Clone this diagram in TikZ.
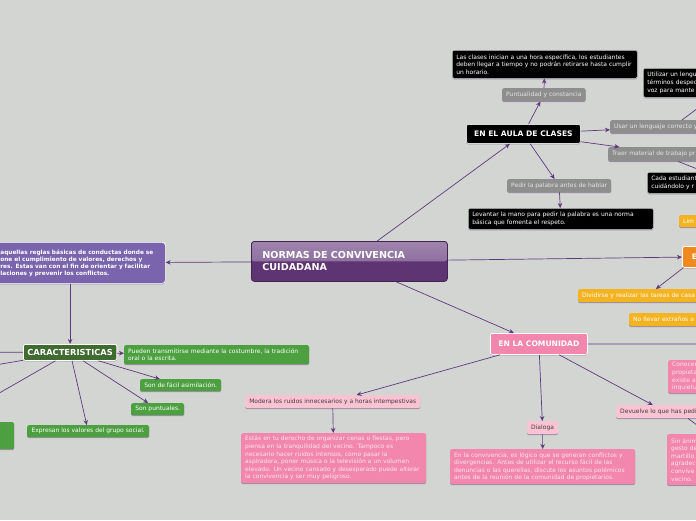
\documentclass[tikz,border=0pt]{standalone}
\usepackage{fontspec}
\setmainfont{DejaVu Sans}
\usetikzlibrary{arrows.meta,shadows}

\definecolor{bgc}{HTML}{D3D5D2}
\definecolor{linec}{HTML}{5E3A7C}
\definecolor{defc}{HTML}{7A64AE}
\definecolor{grayc}{HTML}{8E8E8E}
\definecolor{graytext}{HTML}{E4E4E4}
\definecolor{darkgreen}{HTML}{3F6B31}
\definecolor{greenc}{HTML}{4CA03F}
\definecolor{pinkc}{HTML}{F286AD}
\definecolor{pinktext}{HTML}{FDE6EE}
\definecolor{lightpink}{HTML}{F8C4D2}
\definecolor{lightpinktext}{HTML}{4A3A42}
\definecolor{yellowc}{HTML}{F6B320}
\definecolor{orangec}{HTML}{F08A1E}
\definecolor{normtop}{HTML}{A085AE}
\definecolor{normmid}{HTML}{7C5C92}
\definecolor{normc}{HTML}{5E3473}
\definecolor{shadowc}{HTML}{8C7E96}

\tikzset{
  box/.style={anchor=north west, rounded corners=1.5pt, align=left,
    inner xsep=4pt, inner ysep=2pt, text=white,
    font=\fontsize{6}{7.6}\selectfont,
    drop shadow={shadow xshift=0pt, shadow yshift=-1pt, fill=shadowc, opacity=0.8}},
  blackbox/.style={box, fill=black, draw=gray!50, line width=0.5pt},
  graybox/.style={box, fill=grayc, text=graytext},
  greenbox/.style={box, fill=greenc},
  pinkbox/.style={box, fill=pinkc, text=pinktext},
  lightbox/.style={box, fill=lightpink, text=lightpinktext},
  yellowbox/.style={box, fill=yellowc},
  head/.style={box, align=center, draw=white, line width=0.8pt, rounded corners=2pt,
    font=\bfseries\fontsize{7.6}{8}\selectfont},
  main/.style={anchor=north west, align=left, text=white, draw=normc!70!black,
    line width=0.8pt, rounded corners=3pt, fill=normc, inner xsep=11pt,
    text width=174pt, minimum height=40pt,
    font=\bfseries\fontsize{9.6}{12}\selectfont,
    path picture={\fill[top color=normtop, bottom color=normmid]
      (path picture bounding box.north west) rectangle (path picture bounding box.east);}}
}

\begin{document}
\begin{tikzpicture}[x=1pt, y=-1pt, >={Stealth[length=5pt,width=4.5pt]}]
\useasboundingbox (0,0) rectangle (696,520);
\clip (0,0) rectangle (696,520);
\fill[bgc] (0,0) rectangle (696,520);

% centre and definition
\node[main] (norm) at (251,241) {NORMAS DE CONVIVENCIA\\CUIDADANA};
\node[box, fill=defc, draw=white, line width=0.7pt, rounded corners=3pt, text width=161pt,
  minimum height=41pt, font=\bfseries\fontsize{5.8}{7}\selectfont] (def) at (-4,242)
  {aquellas reglas básicas de conductas donde se\\one el cumplimiento de valores, derechos y\\res. Estas van con el fin de orientar y facilitar\\laciones y prevenir los conflictos.};

% caracteristicas
\node[head, fill=darkgreen, minimum width=92pt, minimum height=16pt,
  font=\bfseries\fontsize{8.3}{9}\selectfont] (caract) at (23,344) {CARACTERISTICAS};
\node[greenbox, text width=177pt, minimum height=19pt] (pueden) at (124,345)
  {Pueden transmitirse mediante la costumbre, la tradición\\oral o la escrita.};
\node[greenbox, align=center, minimum width=81pt, minimum height=12pt] (facil) at (140,379) {Son de fácil asimilación.};
\node[greenbox, align=center, minimum width=53pt, minimum height=12pt] (puntuales) at (131,403) {Son puntuales.};
\node[greenbox, align=center, minimum width=122pt, minimum height=12pt] (expresan) at (27,425) {Expresan los valores del grupo social.};
\node[greenbox, minimum width=34pt, minimum height=27pt] (verde) at (-20,422) {};
\coordinate (cl1) at (-60,352);
\coordinate (cl2) at (-100,381);
\coordinate (cl3) at (-60,427);

% aula
\node[head, fill=black, draw=white!85!black, minimum width=114pt, minimum height=19pt] (aula) at (466,124) {EN EL AULA DE CLASES};
\node[graybox, align=center, minimum width=82pt, minimum height=13pt] (puntual) at (502,88) {Puntualidad y constancia};
\node[blackbox, text width=177pt, minimum height=28pt] (clases) at (452,50)
  {Las clases inician a una hora específica, los estudiantes\\deben llegar a tiempo y no podrán retirarse hasta cumplir\\un horario.};
\node[graybox, text width=120pt, minimum height=13pt] (usar) at (610,120) {Usar un lenguaje correcto y};
\node[blackbox, text width=60pt, minimum height=29pt] (utilizar) at (643,68)
  {Utilizar un lengu\\términos despec\\voz para mante};
\node[graybox, text width=120pt, minimum height=14pt] (traer) at (608,147) {Traer material de trabajo pr};
\node[blackbox, text width=60pt, minimum height=21pt] (cada) at (647,172) {Cada estudiant\\cuidándolo y r};
\node[graybox, align=center, minimum width=103pt, minimum height=13pt] (pedir) at (507,179) {Pedir la palabra antes de hablar};
\node[blackbox, text width=177pt, minimum height=21pt] (levantar) at (468,208)
  {Levantar la mano para pedir la palabra es una norma\\básica que fomenta el respeto.};

% hogar
\node[yellowbox, text width=30pt, minimum height=12pt] (limp) at (679,215) {Lim};
\node[head, fill=orangec, minimum width=30pt, minimum height=21pt, align=left] (hogar) at (682,246) {\hspace{-6pt}E};
\node[yellowbox, text width=130pt, minimum height=13pt] (dividir) at (578,289) {Dividirse y realizar las tareas de casa};
\node[yellowbox, text width=80pt, minimum height=13pt] (extranos) at (629,313) {No llevar extraños a};

% comunidad
\node[head, fill=pinkc, minimum width=97pt, minimum height=21pt] (comun) at (490,333) {EN LA COMUNIDAD};
\coordinate (cr) at (780,344);
\node[pinkbox, text width=40pt, minimum height=33pt] (conocer) at (668,360) {Conocer\\propieta\\existe al\\inquietu};
\node[lightbox, text width=90pt, minimum height=13pt] (devuelve) at (616,405) {Devuelve lo que has pedi};
\node[pinkbox, text width=40pt, minimum height=51pt] (sinanimo) at (667,434) {Sin ánim\\gesto de\\martillo\\agradec\\convive\\vecino.};
\node[lightbox, align=center, minimum width=30pt, minimum height=13pt] (dialoga) at (527,421) {Dialoga};
\node[pinkbox, text width=177pt, minimum height=35pt] (conflictos) at (450,449)
  {En la convivencia, es lógico que se generan conflictos y\\divergencias. Antes de utilizar el recurso fácil de las\\denuncias o las querellas, discute los asuntos polémicos\\antes de la reunión de la comunidad de propietarios.};
\node[lightbox, align=center, minimum width=175pt, minimum height=13pt] (modera) at (245,395) {Modera los ruidos innecesarios y a horas intempestivas};
\node[pinkbox, text width=177pt, minimum height=50pt] (fiestas) at (241,433)
  {Estás en tu derecho de organizar cenas o fiestas, pero\\piensa en la tranquilidad del vecino. Tampoco es\\necesario hacer ruidos intensos, como pasar la\\aspiradora, poner música o la televisión a un volumen\\elevado. Un vecino cansado y desesperado puede alterar\\la convivencia y ser muy peligroso.};

\begin{scope}[every edge/.style={draw=linec, line width=0.7pt}]
  \path [->] (norm) edge (def);
  \path [->] (caract.north |- def.south) edge (caract);
  \path [->] (caract) edge (pueden);
  \path [->] (caract) edge (facil);
  \path [->] (caract) edge (puntuales);
  \path [->] (caract) edge (expresan);
  \path (caract) edge (cl1) (caract) edge (cl2) (caract) edge (cl3);
  \path [->] (norm) edge (aula);
  \path [->] (aula) edge (puntual);
  \path [->] (puntual) edge (clases);
  \path [->] (aula) edge (usar);
  \path [->] ([xshift=72pt]usar.north west) edge ([xshift=69pt]utilizar.south west);
  \path [->] (aula) edge (traer);
  \path [->] ([xshift=70pt]traer.south west) edge ([xshift=58pt]cada.north west);
  \path [->] (aula) edge (pedir);
  \path [->] (pedir) edge (levantar);
  \path [->] (norm) edge (hogar);
  \path [->] (hogar) edge (dividir);
  \path [->] (norm) edge (comun);
  \path (comun) edge (cr);
  \path [->] (comun) edge (devuelve);
  \path [->] ([xshift=72pt]devuelve.south west) edge ([xshift=42pt]sinanimo.north west);
  \path [->] (comun) edge (dialoga);
  \path [->] (dialoga) edge (conflictos);
  \path [->] (comun) edge (modera);
  \path [->] (modera) edge (fiestas);
\end{scope}
\end{tikzpicture}
\end{document}
